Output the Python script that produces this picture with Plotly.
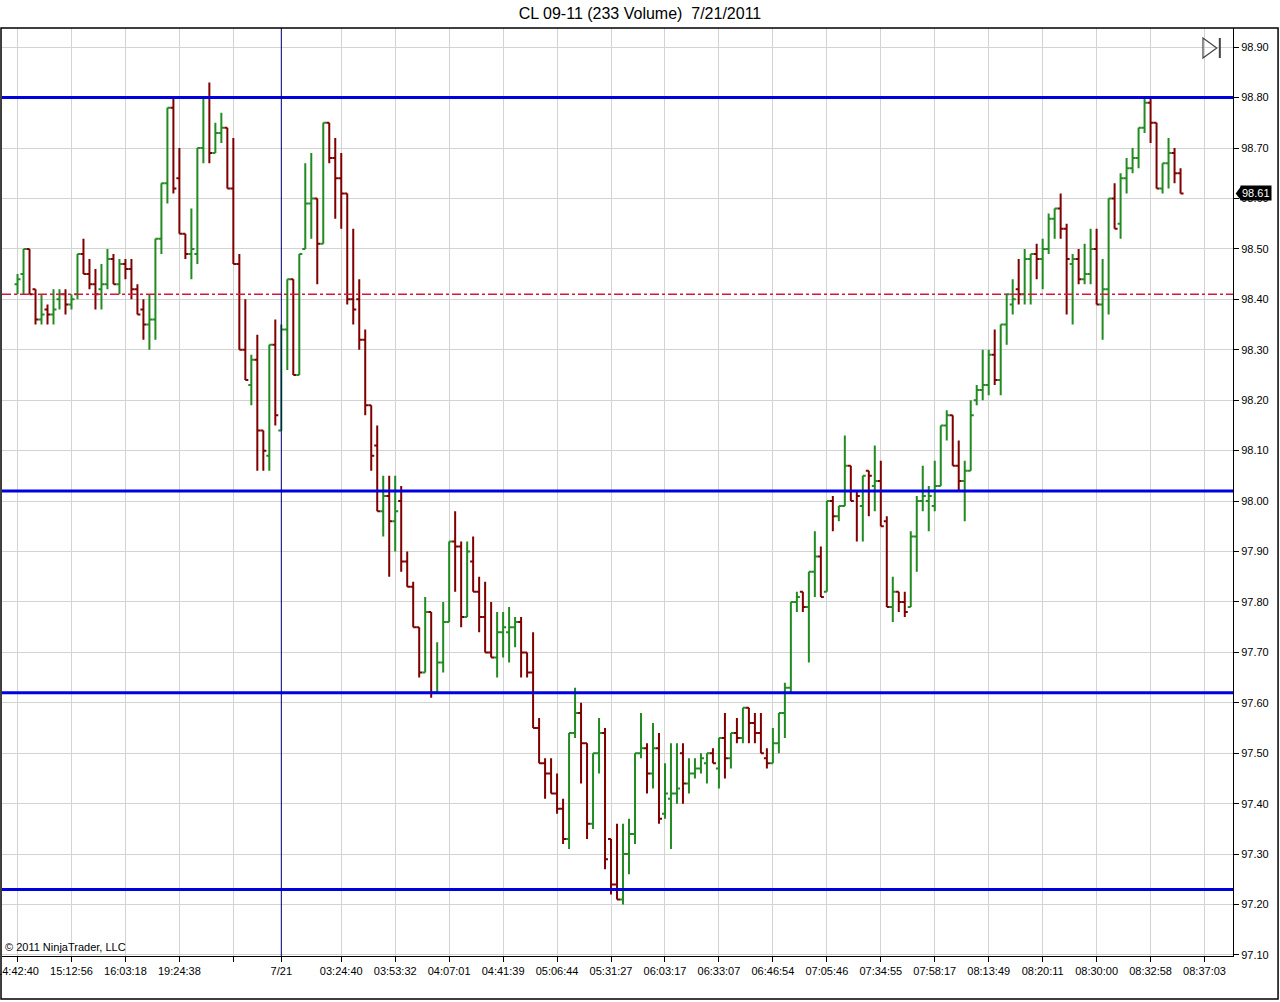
import plotly.graph_objects as go

# 233-volume bars, CL 09-11, 7/20 evening -> 7/21 morning
opens = [98.43, 98.45, 98.50, 98.42, 98.36, 98.38, 98.37, 98.40, 98.41, 98.39,
         98.41, 98.49, 98.45, 98.43, 98.42, 98.43, 98.48, 98.43, 98.47, 98.46,
         98.42, 98.38, 98.35, 98.36, 98.52, 98.63, 98.78, 98.64, 98.53, 98.49,
         98.49, 98.70, 98.80, 98.69, 98.73, 98.74, 98.62, 98.47, 98.30, 98.23,
         98.28, 98.14, 98.09, 98.31, 98.14, 98.34, 98.44, 98.25, 98.50, 98.59,
         98.60, 98.51, 98.75, 98.68, 98.64, 98.61, 98.40, 98.40, 98.32, 98.19,
         98.11, 97.98, 98.01, 97.96, 98.00, 97.88, 97.83, 97.75, 97.66, 97.78,
         97.62, 97.68, 97.76, 97.92, 97.91, 97.77, 97.88, 97.82, 97.77, 97.70,
         97.69, 97.74, 97.74, 97.75, 97.76, 97.70, 97.66, 97.55, 97.48, 97.46,
         97.42, 97.39, 97.33, 97.54, 97.58, 97.52, 97.36, 97.50, 97.54, 97.33,
         97.24, 97.21, 97.30, 97.34, 97.50, 97.51, 97.46, 97.51, 97.38, 97.41,
         97.42, 97.50, 97.44, 97.46, 97.47, 97.48, 97.50, 97.47, 97.53, 97.49,
         97.54, 97.53, 97.59, 97.56, 97.54, 97.49, 97.48, 97.52, 97.58, 97.63,
         97.80, 97.82, 97.79, 97.86, 97.89, 97.82, 98.00, 97.97, 97.99, 98.07,
         98.02, 97.99, 98.06, 98.03, 98.04, 97.96, 97.79, 97.82, 97.80, 97.79,
         97.93, 98.00, 98.00, 97.99, 98.03, 98.15, 98.17, 98.07, 98.04, 98.06,
         98.20, 98.22, 98.23, 98.29, 98.24, 98.35, 98.39, 98.42, 98.41, 98.48,
         98.49, 98.48, 98.50, 98.56, 98.58, 98.54, 98.47, 98.48, 98.44, 98.45,
         98.50, 98.39, 98.42, 98.60, 98.55, 98.64, 98.66, 98.68, 98.74, 98.79,
         98.75, 98.62, 98.67, 98.69, 98.65]
highs = [98.45, 98.50, 98.50, 98.42, 98.41, 98.39, 98.42, 98.42, 98.42, 98.41,
         98.49, 98.52, 98.48, 98.46, 98.47, 98.50, 98.49, 98.48, 98.48, 98.48,
         98.43, 98.40, 98.41, 98.52, 98.63, 98.78, 98.80, 98.70, 98.53, 98.58,
         98.70, 98.80, 98.83, 98.75, 98.77, 98.74, 98.72, 98.49, 98.40, 98.29,
         98.33, 98.14, 98.31, 98.36, 98.35, 98.44, 98.44, 98.49, 98.67, 98.69,
         98.60, 98.75, 98.75, 98.72, 98.69, 98.61, 98.54, 98.44, 98.34, 98.19,
         98.15, 98.05, 98.05, 98.05, 98.03, 97.90, 97.84, 97.75, 97.81, 97.78,
         97.72, 97.80, 97.92, 97.98, 97.92, 97.92, 97.93, 97.85, 97.84, 97.80,
         97.78, 97.78, 97.79, 97.77, 97.77, 97.70, 97.74, 97.57, 97.49, 97.49,
         97.46, 97.41, 97.54, 97.63, 97.60, 97.52, 97.50, 97.57, 97.55, 97.33,
         97.36, 97.36, 97.37, 97.50, 97.58, 97.52, 97.56, 97.54, 97.48, 97.52,
         97.52, 97.52, 97.49, 97.49, 97.50, 97.50, 97.51, 97.53, 97.58, 97.54,
         97.57, 97.59, 97.59, 97.58, 97.58, 97.51, 97.55, 97.58, 97.64, 97.80,
         97.82, 97.82, 97.86, 97.94, 97.91, 98.00, 98.01, 97.99, 98.13, 98.07,
         98.02, 98.05, 98.06, 98.11, 98.08, 97.97, 97.85, 97.82, 97.82, 97.94,
         98.01, 98.07, 98.03, 98.08, 98.15, 98.18, 98.17, 98.12, 98.08, 98.20,
         98.23, 98.30, 98.30, 98.34, 98.35, 98.41, 98.44, 98.48, 98.50, 98.49,
         98.51, 98.52, 98.57, 98.58, 98.61, 98.55, 98.49, 98.50, 98.51, 98.54,
         98.54, 98.48, 98.60, 98.63, 98.65, 98.68, 98.70, 98.74, 98.80, 98.80,
         98.75, 98.67, 98.72, 98.70, 98.66]
lows = [98.41, 98.41, 98.41, 98.35, 98.35, 98.35, 98.35, 98.38, 98.37, 98.38,
        98.40, 98.45, 98.42, 98.38, 98.38, 98.42, 98.43, 98.41, 98.44, 98.40,
        98.37, 98.32, 98.30, 98.32, 98.49, 98.59, 98.61, 98.53, 98.48, 98.44,
        98.47, 98.67, 98.67, 98.69, 98.71, 98.62, 98.47, 98.30, 98.24, 98.19,
        98.06, 98.06, 98.06, 98.15, 98.14, 98.26, 98.25, 98.25, 98.50, 98.52,
        98.43, 98.51, 98.67, 98.56, 98.54, 98.39, 98.35, 98.30, 98.17, 98.06,
        97.98, 97.93, 97.85, 97.90, 97.86, 97.83, 97.75, 97.65, 97.66, 97.61,
        97.62, 97.66, 97.76, 97.82, 97.75, 97.77, 97.82, 97.74, 97.70, 97.69,
        97.65, 97.69, 97.68, 97.71, 97.65, 97.65, 97.55, 97.48, 97.41, 97.42,
        97.38, 97.32, 97.31, 97.53, 97.44, 97.33, 97.35, 97.46, 97.27, 97.22,
        97.21, 97.20, 97.26, 97.32, 97.49, 97.42, 97.43, 97.36, 97.37, 97.31,
        97.40, 97.40, 97.42, 97.45, 97.46, 97.44, 97.48, 97.43, 97.45, 97.47,
        97.52, 97.52, 97.52, 97.52, 97.50, 97.47, 97.48, 97.50, 97.53, 97.62,
        97.78, 97.78, 97.68, 97.81, 97.81, 97.82, 97.94, 97.96, 97.99, 98.00,
        97.92, 97.92, 97.97, 97.98, 97.95, 97.79, 97.76, 97.78, 97.77, 97.79,
        97.86, 97.98, 97.94, 97.98, 98.03, 98.12, 98.07, 98.02, 97.96, 98.06,
        98.19, 98.20, 98.21, 98.23, 98.21, 98.31, 98.37, 98.39, 98.39, 98.39,
        98.44, 98.42, 98.49, 98.52, 98.52, 98.37, 98.35, 98.43, 98.43, 98.43,
        98.39, 98.32, 98.37, 98.54, 98.52, 98.61, 98.65, 98.66, 98.73, 98.71,
        98.62, 98.61, 98.62, 98.63, 98.61]
closes = [98.44, 98.50, 98.41, 98.36, 98.37, 98.37, 98.38, 98.41, 98.39, 98.40,
          98.49, 98.45, 98.43, 98.41, 98.43, 98.48, 98.43, 98.47, 98.46, 98.42,
          98.37, 98.35, 98.36, 98.52, 98.63, 98.78, 98.62, 98.53, 98.49, 98.50,
          98.70, 98.80, 98.69, 98.73, 98.74, 98.62, 98.47, 98.30, 98.24, 98.28,
          98.14, 98.10, 98.31, 98.17, 98.34, 98.44, 98.25, 98.49, 98.59, 98.60,
          98.51, 98.75, 98.68, 98.64, 98.61, 98.40, 98.38, 98.32, 98.19, 98.09,
          97.98, 98.01, 97.96, 97.98, 97.88, 97.83, 97.75, 97.66, 97.78, 97.62,
          97.68, 97.76, 97.92, 97.91, 97.77, 97.90, 97.82, 97.77, 97.70, 97.69,
          97.74, 97.75, 97.75, 97.76, 97.70, 97.66, 97.55, 97.48, 97.46, 97.42,
          97.39, 97.33, 97.54, 97.58, 97.52, 97.36, 97.50, 97.54, 97.29, 97.24,
          97.21, 97.30, 97.34, 97.50, 97.51, 97.46, 97.51, 97.37, 97.42, 97.42,
          97.43, 97.44, 97.46, 97.47, 97.49, 97.50, 97.48, 97.53, 97.49, 97.54,
          97.53, 97.59, 97.56, 97.54, 97.50, 97.48, 97.52, 97.58, 97.63, 97.80,
          97.81, 97.79, 97.86, 97.89, 97.81, 98.00, 97.97, 97.99, 98.07, 98.00,
          98.01, 98.05, 98.05, 98.04, 97.95, 97.79, 97.82, 97.80, 97.78, 97.93,
          98.00, 98.01, 98.01, 98.03, 98.15, 98.17, 98.07, 98.04, 98.06, 98.17,
          98.22, 98.23, 98.29, 98.24, 98.35, 98.41, 98.40, 98.41, 98.48, 98.49,
          98.48, 98.50, 98.56, 98.58, 98.54, 98.48, 98.48, 98.44, 98.45, 98.50,
          98.39, 98.42, 98.60, 98.54, 98.64, 98.66, 98.68, 98.74, 98.79, 98.75,
          98.62, 98.67, 98.69, 98.65, 98.61]
bar_idx = list(range(len(closes)))

# x axis labels (every 9 bars, session break at bar 44)
tick_pos = [0, 9, 18, 27, 36, 44, 54, 63, 72, 81, 90, 99, 108, 117, 126,
            135, 144, 153, 162, 171, 180, 189, 198]
tick_text = ["14:42:40", "15:12:56", "16:03:18", "19:24:38", "", "7/21",
             "03:24:40", "03:53:32", "04:07:01", "04:41:39", "05:06:44",
             "05:31:27", "06:03:17", "06:33:07", "06:46:54", "07:05:46",
             "07:34:55", "07:58:17", "08:13:49", "08:20:11", "08:30:00",
             "08:32:58", "08:37:03"]
session_break = 44

# drawn levels
blue_levels = [98.80, 98.02, 97.62, 97.23]
red_level = 98.41
last_price = closes[-1]

fig = go.Figure()
fig.add_trace(go.Ohlc(
    x=bar_idx, open=opens, high=highs, low=lows, close=closes,
    increasing=dict(line=dict(color="#228B22", width=2)),
    decreasing=dict(line=dict(color="#800000", width=2)),
    tickwidth=0.5, hoverinfo="skip", showlegend=False,
))

for lv in blue_levels:
    fig.add_hline(y=lv, line=dict(color="#0000E0", width=3))
fig.add_hline(y=red_level, line=dict(color="#DC143C", width=1.5, dash="dashdot"))
fig.add_vline(x=session_break, line=dict(color="#000080", width=1))

# last price tag on the price axis
fig.add_shape(type="path", xref="paper", yref="y",
              path=f"M 1.0022,{last_price} L 1.0065,{last_price + 0.014} "
                   f"L 1.0065,{last_price - 0.014} Z",
              fillcolor="black", line=dict(width=0))
fig.add_annotation(x=1, xref="paper", y=last_price, yref="y", xanchor="left",
                   xshift=7, text=f"{last_price:.2f}", showarrow=False,
                   bgcolor="black", borderpad=1,
                   font=dict(family="Liberation Sans", size=11, color="white"))

# "go to last bar" icon, top right
fig.add_shape(type="path", xref="paper", yref="paper",
              path="M 0.9756,0.9892 L 0.9868,0.9784 L 0.9756,0.9677 Z",
              line=dict(color="#444444", width=1.2))
fig.add_shape(type="line", xref="paper", yref="paper",
              x0=0.9893, x1=0.9893, y0=0.9677, y1=0.9892,
              line=dict(color="#444444", width=2))

# panel border
fig.add_shape(type="rect", xref="paper", yref="paper",
              x0=-0.0008, x1=1.0366, y0=-0.0463, y1=1.0,
              line=dict(color="black", width=1.5), layer="above")

fig.add_annotation(x=0, xref="paper", y=0, yref="paper", xanchor="left",
                   yanchor="bottom", xshift=1, yshift=1,
                   text="© 2011 NinjaTrader, LLC", showarrow=False,
                   font=dict(family="Liberation Sans", size=11, color="black"))

fig.update_layout(
    width=1280, height=1002,
    margin=dict(l=2, r=47, t=28, b=46),
    paper_bgcolor="white", plot_bgcolor="white",
    title=dict(text="CL 09-11 (233 Volume)  7/21/2011", x=0.5, xanchor="center",
               y=0.987, yanchor="middle",
               font=dict(family="Liberation Sans", size=16, color="black")),
    font=dict(family="Liberation Sans", size=11, color="black"),
    showlegend=False,
    hovermode=False,
)
fig.update_xaxes(
    range=[-2.59, 202.75], rangeslider=dict(visible=False),
    tickmode="array", tickvals=tick_pos, ticktext=tick_text,
    ticklabeloverflow="allow",
    showgrid=True, gridcolor="#D3D3D3", gridwidth=1,
    showline=True, linecolor="black", linewidth=1,
    ticks="outside", ticklen=5, tickcolor="black",
    zeroline=False, automargin=False,
)
fig.update_yaxes(
    range=[97.098, 98.938], side="right", dtick=0.1, tick0=97.1,
    tickformat=".2f", showgrid=True, gridcolor="#D3D3D3", gridwidth=1,
    showline=True, linecolor="black", linewidth=1,
    ticks="outside", ticklen=5, tickcolor="black",
    zeroline=False, automargin=False,
)

# no page margin so the figure sits at the window corner
fig.write_html("out.html", config={"displayModeBar": False},
               post_script="document.body.style.margin='0';")
